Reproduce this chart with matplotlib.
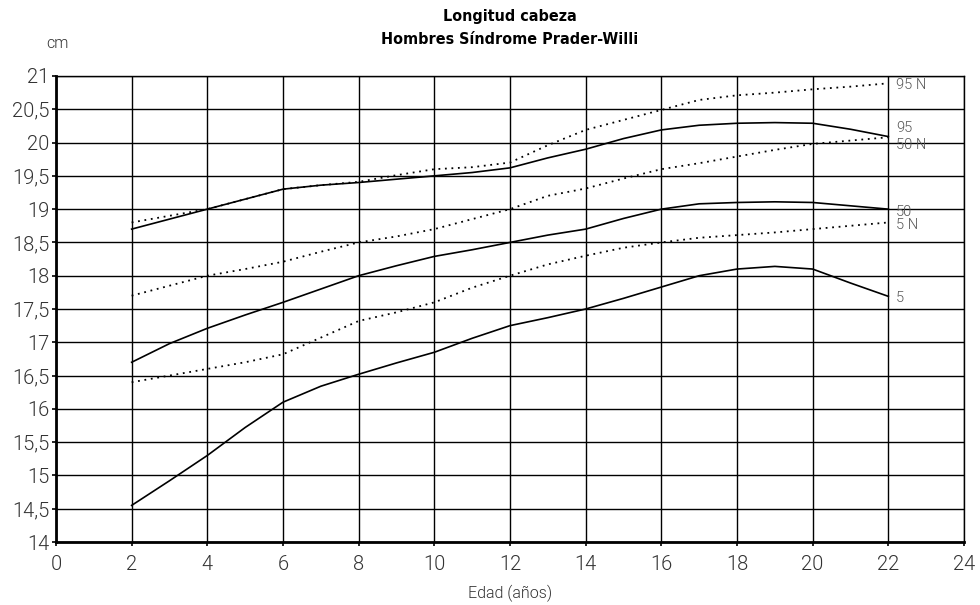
import matplotlib
matplotlib.use("Agg")
import matplotlib.pyplot as plt
from matplotlib.ticker import FuncFormatter, MultipleLocator

# Head length percentiles (cm) by age, Prader-Willi males vs. normal reference
ages = [2, 3, 4, 5, 6, 7, 8, 9, 10, 11, 12, 13, 14, 15, 16, 17, 18, 19, 20, 21, 22]

pws_p95 = [18.70, 18.85, 19.00, 19.15, 19.30, 19.36, 19.40, 19.45, 19.50, 19.55, 19.62,
           19.77, 19.90, 20.06, 20.19, 20.26, 20.29, 20.30, 20.29, 20.20, 20.09]
pws_p50 = [16.70, 16.98, 17.21, 17.41, 17.60, 17.80, 18.00, 18.15, 18.29, 18.39, 18.50,
           18.61, 18.70, 18.86, 19.00, 19.08, 19.10, 19.11, 19.10, 19.05, 19.00]
pws_p5 = [14.55, 14.92, 15.30, 15.72, 16.10, 16.34, 16.52, 16.69, 16.85, 17.06, 17.25,
          17.37, 17.50, 17.66, 17.83, 18.00, 18.10, 18.14, 18.10, 17.89, 17.69]

norm_p95 = [18.80, 18.90, 19.00, 19.15, 19.30, 19.36, 19.41, 19.51, 19.60, 19.63, 19.70,
            19.96, 20.19, 20.34, 20.49, 20.64, 20.71, 20.75, 20.80, 20.84, 20.89]
norm_p50 = [17.70, 17.85, 18.00, 18.10, 18.21, 18.36, 18.50, 18.59, 18.70, 18.85, 19.00,
            19.20, 19.31, 19.46, 19.60, 19.69, 19.79, 19.89, 19.98, 20.03, 20.08]
norm_p5 = [16.40, 16.50, 16.60, 16.70, 16.82, 17.07, 17.32, 17.45, 17.60, 17.82, 18.00,
           18.17, 18.30, 18.42, 18.50, 18.57, 18.61, 18.65, 18.70, 18.75, 18.80]

series = [
    ("95 N", norm_p95, "dotted"),
    ("95", pws_p95, "solid"),
    ("50 N", norm_p50, "dotted"),
    ("50", pws_p50, "solid"),
    ("5 N", norm_p5, "dotted"),
    ("5", pws_p5, "solid"),
]
# vertical nudge of each end label so neighbouring labels do not collide
label_nudge = {"95 N": -0.03, "95": 0.13, "50 N": -0.12, "50": -0.04, "5 N": -0.04, "5": -0.02}

title_lines = ["Longitud cabeza", "Hombres Síndrome Prader-Willi"]
y_unit = "cm"
x_title = "Edad (años)"

plt.rcParams["font.family"] = ["Roboto", "DejaVu Sans"]
plt.rcParams["font.weight"] = 300
grey = "#333333"

fig = plt.figure(figsize=(9.8, 6.05), dpi=100)
ax = fig.add_axes([0.0571, 0.1041, 0.9266, 0.7703])

ax.set_xlim(0, 24)
ax.set_ylim(14, 21)
ax.xaxis.set_major_locator(MultipleLocator(2))
ax.yaxis.set_major_locator(MultipleLocator(0.5))
ax.yaxis.set_major_formatter(FuncFormatter(lambda v, p: (f"{v:g}").replace(".", ",")))
ax.grid(True, color="black", linewidth=1.0)
ax.set_axisbelow(True)

for name, vals, style in series:
    if style == "dotted":
        ax.plot(ages, vals, color="black", linewidth=1.3, linestyle=(0, (1, 2.6)),
                clip_on=False, zorder=3)
    else:
        ax.plot(ages, vals, color="black", linewidth=1.2, clip_on=False, zorder=3)
    ax.text(ages[-1] + 0.2, vals[-1] + label_nudge[name], name, fontsize=10.5,
            color="#555555", va="center", ha="left", zorder=4)

for side in ("top", "right"):
    ax.spines[side].set_linewidth(1.0)
for side in ("left", "bottom"):
    ax.spines[side].set_linewidth(2.0)

ax.tick_params(axis="both", length=3, width=1.2, color="black", labelsize=14.5,
               labelcolor=grey, pad=2)
ax.tick_params(axis="x", pad=6)

ax.set_xlabel(x_title, fontsize=11.5, color=grey, fontweight=300, labelpad=8)

title_font = dict(family=["DejaVu Sans"], fontstretch="condensed", fontweight="bold",
                  fontsize=11.5, ha="center", va="top", color="black")
fig.text(0.5204, 0.985, title_lines[0], **title_font)
fig.text(0.5204, 0.947, title_lines[1], **title_font)
fig.text(0.059, 0.928, y_unit, ha="center", va="center", fontsize=11.5, color=grey)

fig.savefig("out.png", dpi=100)
